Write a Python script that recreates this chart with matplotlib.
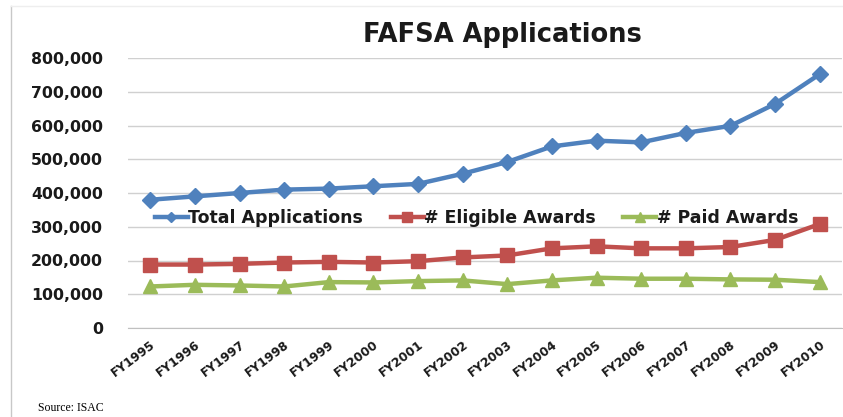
import matplotlib
matplotlib.use("Agg")
import matplotlib.pyplot as plt
from matplotlib.lines import Line2D
from matplotlib.ticker import FuncFormatter, MultipleLocator

years = ["FY1995", "FY1996", "FY1997", "FY1998", "FY1999", "FY2000", "FY2001", "FY2002",
         "FY2003", "FY2004", "FY2005", "FY2006", "FY2007", "FY2008", "FY2009", "FY2010"]
total_apps = [380000, 390000, 400000, 410000, 413000, 420000, 427000, 457000,
              492000, 538000, 555000, 550000, 578000, 599000, 664000, 752000]
eligible = [188000, 188000, 190000, 194000, 196000, 194000, 198000, 209000,
            215000, 236000, 242000, 236000, 236000, 240000, 261000, 308000]
paid = [123000, 128000, 126000, 123000, 136000, 135000, 139000, 141000,
        130000, 141000, 149000, 146000, 146000, 144000, 143000, 136000]

plt.rcParams['font.family'] = ['DejaVu Sans']

fig = plt.figure(figsize=(8.43, 4.17), dpi=100)
ax = fig.add_axes([128/843, 1-328/417, (842-128)/843, (328-58)/417])

x = list(range(len(years)))
ax.plot(x, total_apps, color='#4F81BD', lw=3.2, marker='D', ms=8, label='Total Applications', zorder=3)
ax.plot(x, eligible, color='#C0504D', lw=3.2, marker='s', ms=10, label='# Eligible Awards', zorder=3)
ax.plot(x, paid, color='#9BBB59', lw=3.2, marker='^', ms=10, label='# Paid Awards', zorder=3)

ax.set_xlim(-0.5, len(years) - 0.5)
ax.set_ylim(0, 800000)
ax.yaxis.set_major_locator(MultipleLocator(100000))
ax.yaxis.set_major_formatter(FuncFormatter(lambda v, p: f"{int(v):,}"))
ax.grid(axis='y', color='#D0D0D0', lw=1)
ax.set_axisbelow(True)
for s in ['top', 'right', 'left']:
    ax.spines[s].set_visible(False)
ax.spines['bottom'].set_color('#C0C0C0')
ax.tick_params(axis='y', length=0, pad=18, labelsize=11.3)
ax.tick_params(axis='x', length=0, pad=7, labelsize=8.8)
ax.set_xticks(x)
ax.set_xticklabels(years, rotation=37, ha='right', va='top', rotation_mode='anchor')
for lab in ax.get_yticklabels() + ax.get_xticklabels():
    lab.set_fontweight('bold')
    lab.set_color('#1a1a1a')

leg = ax.legend(loc='center', bbox_to_anchor=(0.488, 0.407), ncol=3, frameon=False,
                prop={'weight': 'bold', 'size': 12.5}, handlelength=1.9, columnspacing=1.6,
                handletextpad=0.02, markerscale=0.7)
for t in leg.get_texts():
    t.set_color('#1a1a1a')

fig.text(502/843, 1 - 35/417, "FAFSA Applications", ha='center', va='center',
         fontsize=18.5, fontweight='bold', color='#1a1a1a')
fig.text(38/843, 1 - 408/417, "Source: ISAC", ha='left', va='center', fontsize=8.5,
         family='Liberation Serif')

fig.add_artist(Line2D([11/843, 11/843], [0, 1 - 6/417], transform=fig.transFigure,
                      color='#C8C8C8', lw=1))
fig.add_artist(Line2D([11/843, 1], [1 - 6/417, 1 - 6/417], transform=fig.transFigure,
                      color='#EEEEEE', lw=1))

fig.savefig("out.png", dpi=100)
